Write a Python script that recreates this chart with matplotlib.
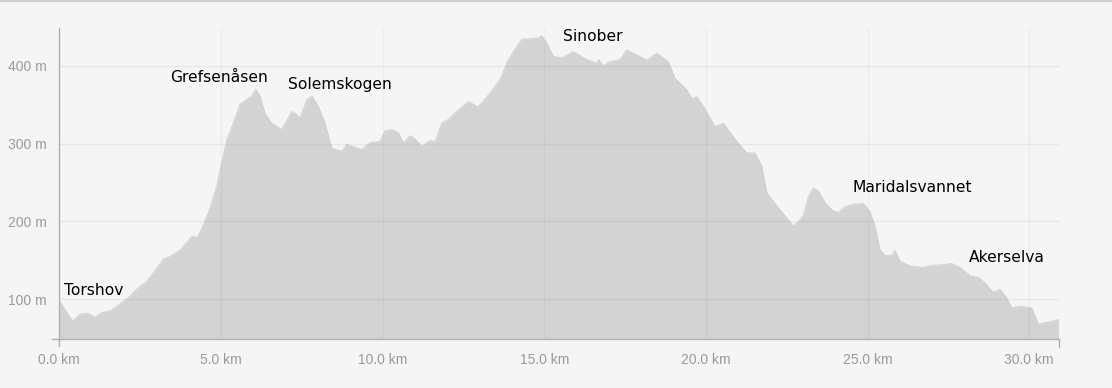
import matplotlib
matplotlib.use("Agg")
import matplotlib.pyplot as plt
import numpy as np

# Elevation profile (distance in km, elevation in m)
distance_km = [
    0.00, 0.41, 0.64, 0.90, 1.10, 1.31, 1.57, 1.88, 2.13, 2.39, 2.70, 2.91, 3.22, 3.42,
    3.73, 3.94, 4.10, 4.25, 4.40, 4.61, 4.87, 5.02, 5.18, 5.38, 5.59, 5.80, 5.95, 6.08,
    6.21, 6.36, 6.57, 6.88, 7.03, 7.19, 7.29, 7.45, 7.65, 7.81, 8.01, 8.22, 8.43, 8.58,
    8.73, 8.89, 9.04, 9.35, 9.61, 9.92, 10.07, 10.28, 10.49, 10.64, 10.85, 11.00, 11.21,
    11.47, 11.62, 11.83, 12.03, 12.29, 12.65, 12.96, 13.32, 13.63, 13.89, 14.30, 14.77,
    14.92, 15.08, 15.28, 15.54, 15.90, 16.31, 16.62, 16.67, 16.83, 17.03, 17.34, 17.55,
    17.75, 18.17, 18.48, 18.84, 19.04, 19.41, 19.56, 19.72, 19.92, 20.28, 20.54, 20.95,
    21.26, 21.52, 21.73, 21.88, 22.19, 22.45, 22.70, 22.86, 23.01, 23.17, 23.32, 23.48,
    23.68, 23.89, 24.09, 24.30, 24.56, 24.87, 25.07, 25.23, 25.38, 25.54, 25.74, 25.85,
    26.00, 26.31, 26.72, 27.03, 27.24, 27.60, 27.86, 28.17, 28.43, 28.63, 28.89, 29.10,
    29.30, 29.46, 29.72, 30.08, 30.28, 30.44, 30.65, 30.80, 30.90,
]
elevation_m = [
    98, 72, 81, 82, 77, 83, 85, 94, 102, 113, 123, 134, 152, 155,
    163, 173, 181, 179, 190, 211, 245, 275, 305, 326, 350, 357, 361, 370,
    361, 339, 326, 318, 329, 341, 339, 333, 356, 361, 348, 326, 294, 292,
    290, 299, 297, 292, 301, 303, 316, 318, 314, 301, 310, 306, 296,
    304, 302, 326, 331, 341, 354, 347, 365, 382, 408, 434, 435,
    438, 429, 412, 410, 418, 408, 403, 408, 400, 405, 408, 420,
    416, 407, 416, 405, 384, 369, 358, 360, 348, 322, 326, 303,
    288, 288, 271, 237, 220, 207, 194, 200, 207, 232, 243, 239,
    224, 215, 211, 219, 222, 223, 213, 194, 164, 156, 156, 163,
    149, 143, 141, 144, 144, 146, 141, 130, 128, 121, 109, 113,
    102, 89, 91, 89, 68, 70, 71, 73, 74,
]

x_ticks = [0, 5, 10, 15, 20, 25, 30]
x_tick_labels = ["0.0 km", "5.0 km", "10.0 km", "15.0 km", "20.0 km", "25.0 km", "30.0 km"]
y_ticks = [100, 200, 300, 400]
y_tick_labels = ["100 m", "200 m", "300 m", "400 m"]

place_names = ["Torshov", "Grefsenåsen", "Solemskogen", "Sinober", "Maridalsvannet", "Akerselva"]

W, H = 1112, 388
fig = plt.figure(figsize=(W / 100, H / 100), dpi=100)
bg = "#f5f5f5"
fig.patch.set_facecolor(bg)
ax = fig.add_axes([59.3 / W, 1 - 339.3 / H, (1059.3 - 59.3) / W, (339.3 - 27.7) / H])
ax.set_facecolor(bg)

ymin, ymax = 48.7, 448.8
ax.fill_between(distance_km, elevation_m, ymin, color="#d3d3d3", lw=0, zorder=1)
ax.plot(distance_km, elevation_m, color="#d0d0d0", lw=0.7, zorder=1.5)

ax.set_xlim(0, 30.93)
ax.set_ylim(ymin, ymax)

for yv in y_ticks:
    ax.axhline(yv, color=(0, 0, 0, 0.05), lw=1, zorder=2)
for xv in x_ticks[1:]:
    ax.axvline(xv, color=(0, 0, 0, 0.035), lw=1, zorder=2)

ax.set_xticks(x_ticks)
ax.set_xticklabels(x_tick_labels)
ax.set_yticks(y_ticks)
ax.set_yticklabels(y_tick_labels)
ax.tick_params(axis="both", length=0, labelcolor="#9a9a9a", labelsize=10,
               labelfontfamily="Liberation Sans")
ax.tick_params(axis="x", pad=10)
ax.tick_params(axis="y", pad=9)

for s in ["top", "right"]:
    ax.spines[s].set_visible(False)
for s in ["left", "bottom"]:
    ax.spines[s].set_color("#b0b0b0")
    ax.spines[s].set_linewidth(1)

# end ticks
ax.plot([0, 0], [0, -0.02], transform=ax.transAxes, color="#b0b0b0", lw=1, clip_on=False)
ax.plot([1, 1], [0, -0.024], transform=ax.transAxes, color="#b0b0b0", lw=1, clip_on=False)
ax.plot([-0.007, 0], [0, 0], transform=ax.transAxes, color="#b0b0b0", lw=1, clip_on=False)

label_pos = [(0.15, 111), (3.42, 385), (7.07, 376), (15.58, 438), (24.52, 243), (28.14, 154)]
for name, (lx, ly) in zip(place_names, label_pos):
    ax.text(lx, ly, name, fontsize=11.2, color="black", ha="left", va="center",
            family="DejaVu Sans", zorder=5)

# top border of the widget
fig.add_artist(plt.Line2D([0, 1], [1 - 0.5 / H, 1 - 0.5 / H], color="#cfcfcf", lw=1.5))

fig.savefig("out.png", dpi=100, facecolor=bg)
